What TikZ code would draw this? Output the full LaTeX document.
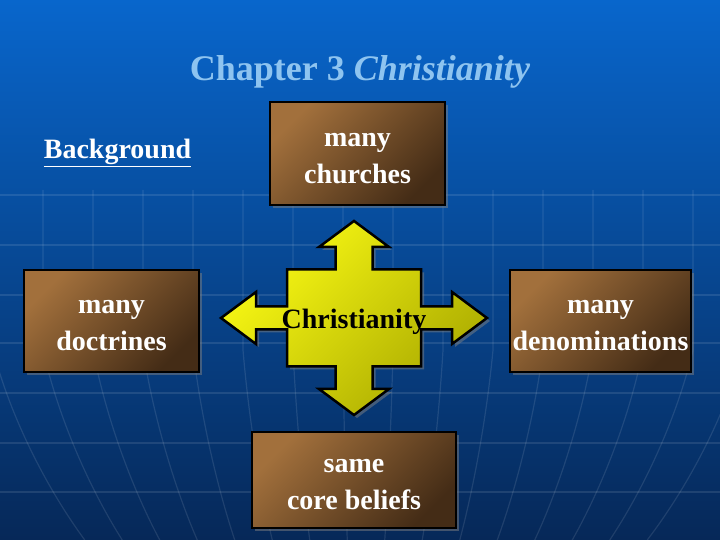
\documentclass[tikz,border=0pt]{standalone}
\usepackage{fontspec}
\setmainfont{Liberation Serif}
\usetikzlibrary{positioning,calc,shadows}
\definecolor{skytop}{RGB}{8,102,204}
\definecolor{skybot}{RGB}{6,40,88}
\definecolor{boxlight}{RGB}{162,112,60}
\definecolor{boxdark}{RGB}{68,44,22}
\definecolor{arrlight}{RGB}{250,250,20}
\definecolor{arrdark}{RGB}{170,170,0}
\definecolor{titleblue}{RGB}{142,196,240}
\tikzset{
  topic/.style  ={rectangle,draw=black,line width=2.5pt,top color=boxlight,bottom color=boxdark,shading angle=45,
                  text=white,font=\bfseries\fontsize{28}{37}\selectfont,align=center,inner sep=0pt,
                  text height=60pt,text depth=0pt,
                  drop shadow={shadow xshift=3pt,shadow yshift=-3pt,opacity=0.5}},
  cross/.style  ={draw=black,line width=2.5pt,line join=miter,top color=arrlight,bottom color=arrdark,shading angle=45,
                  drop shadow={shadow xshift=3pt,shadow yshift=-3pt,opacity=0.5}},
  gridline/.style={white,opacity=0.1,line width=1.2pt},
  heading/.style={text=titleblue,font=\bfseries\fontsize{36}{40}\selectfont},
}

\begin{document}
\begin{tikzpicture}[x=1pt,y=1pt]
  \shade[top color=skytop,bottom color=skybot] (0,0) rectangle (720,540);
  \useasboundingbox (0,0) rectangle (720,540);
  % globe lines
  \foreach \y in {48,97,147,197,245,295,345}{\draw[gridline](0,\y)--(720,\y);}
  \foreach \x in {-7,43,...,743}{\draw[gridline](\x,350)--(\x,190) .. controls ({\x-(\x-360)*0.05},120) and ({\x-(\x-360)*0.15},50) .. ({\x-(\x-360)*0.25},0);}
  \node[heading](title) at (360,468){Chapter 3 \textit{Christianity}};
  \node[text=white,font=\bfseries\fontsize{28}{34}\selectfont](bg) at (117.5,387){\underline{Background}};
  \coordinate (hub) at (354,222);
  \begin{scope}[shift={(hub)}]
    \draw[cross] (0,97)--(35,71)--(18.5,71)--(18.5,48.5)--(67,48.5)--(67,11.5)--(98,11.5)--(98,26)--(133,0)
      --(98,-26)--(98,-11.5)--(67,-11.5)--(67,-48.5)--(18.5,-48.5)--(18.5,-71)--(35,-71)--(0,-97)
      --(-35,-71)--(-18.5,-71)--(-18.5,-48.5)--(-67,-48.5)--(-67,-11.5)--(-98,-11.5)--(-98,-26)--(-133,0)
      --(-98,26)--(-98,11.5)--(-67,11.5)--(-67,48.5)--(-18.5,48.5)--(-18.5,71)--(-35,71)--cycle;
  \end{scope}
  \node[font=\bfseries\fontsize{28}{34}\selectfont,yshift=-4](christ) at (hub){Christianity};
  \node[topic,minimum width=175,minimum height=103](churches) at (357.5,386.5){many\\churches};
  \node[topic,minimum width=175,minimum height=102](doctrines) at (111.5,219){many\\doctrines};
  \node[topic,minimum width=181,minimum height=102](denoms) at (600.5,219){many\\denominations};
  \node[topic,minimum width=204,minimum height=96](beliefs) at (354,60){same\\core beliefs};
\end{tikzpicture}
\end{document}
